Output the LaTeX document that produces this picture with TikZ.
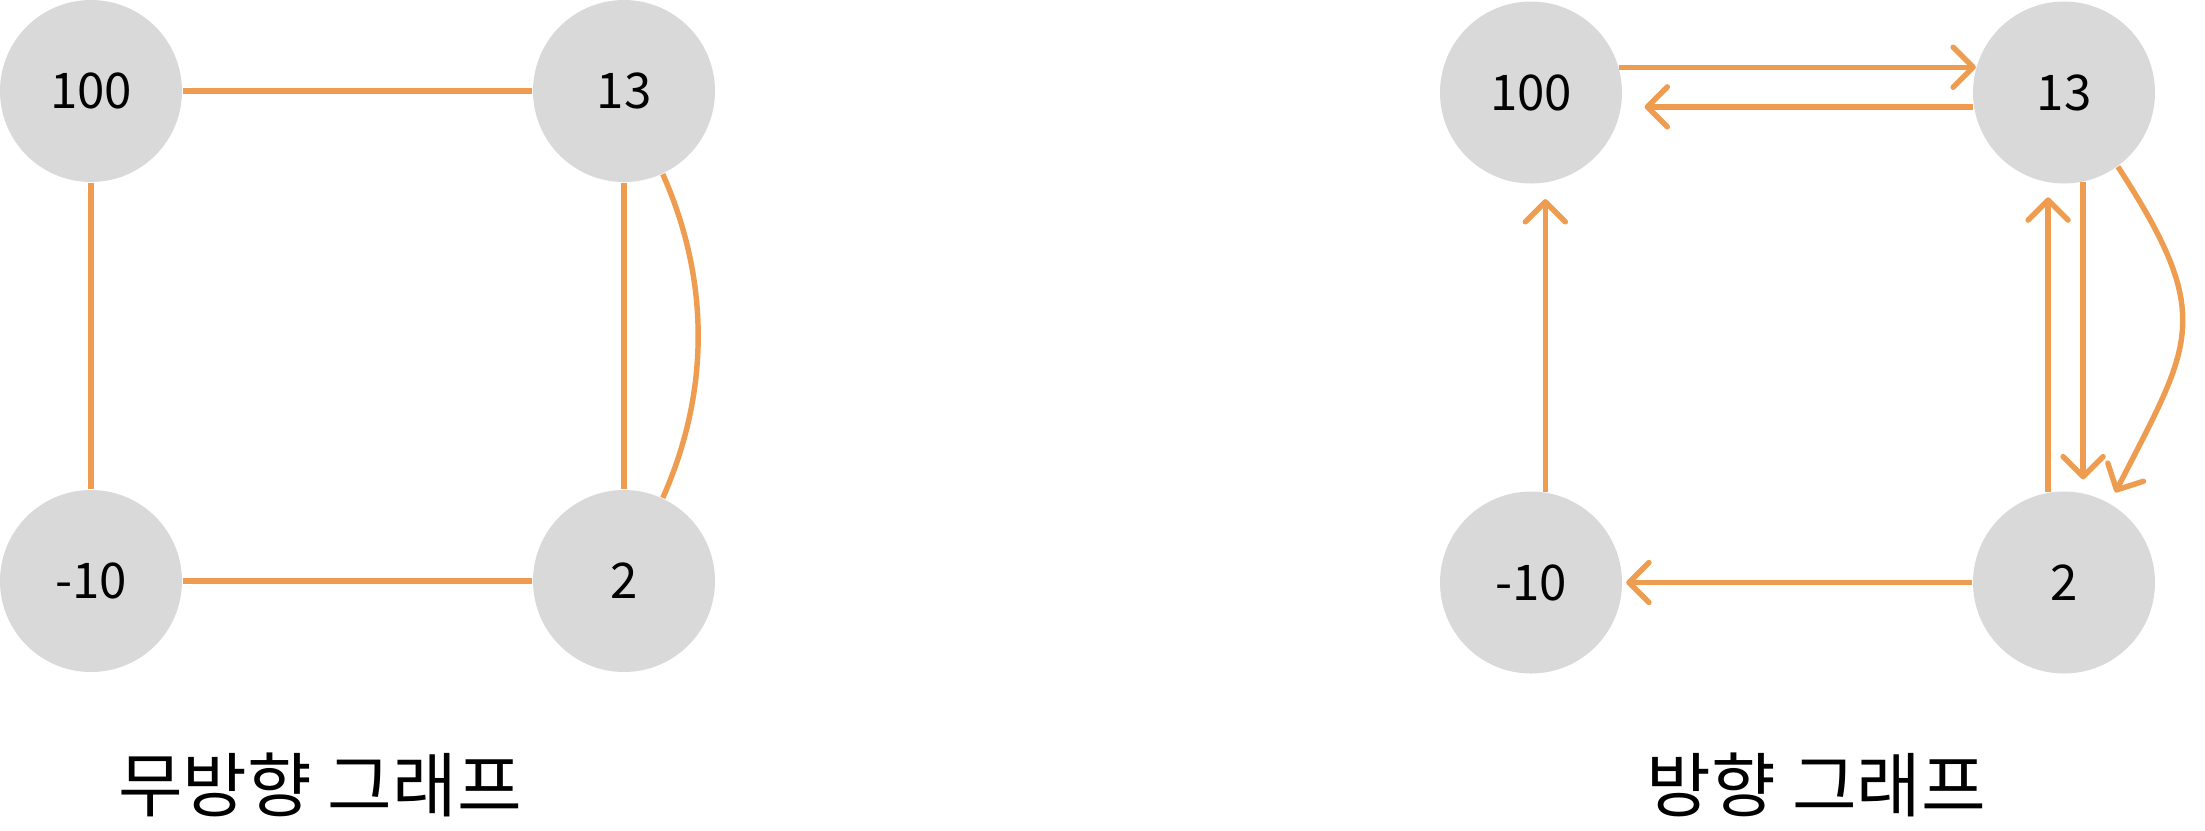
\documentclass[tikz,border=0pt]{standalone}
\usepackage{fontspec}
\setmainfont{Noto Sans CJK KR}
\usetikzlibrary{arrows.meta,positioning}
\definecolor{nodegray}{HTML}{D9D9D9}
\definecolor{edgeorange}{HTML}{EE9D50}

\begin{document}
\begin{tikzpicture}[
  every node/.style={circle,fill=nodegray,minimum size=1.82cm,inner sep=0pt,
    font=\fontsize{14}{16}\selectfont},
  edge/.style={draw=edgeorange,line width=1.55pt},
  title/.style={rectangle,fill=none,minimum size=0pt,font=\fontsize{20}{24}\selectfont},
  >={Straight Barb[length=2mm,width=4mm,round]}]
  \useasboundingbox (0,0) rectangle (22.05,-8.3);

  % undirected graph
  \node (u100) at (0.91,-0.91) {100};
  \node (u13) at (6.24,-0.91) {13};
  \node (um10) at (0.91,-5.81) {-10};
  \node (u2) at (6.24,-5.81) {2};

  \draw[edge] (u100) -- (u13);
  \draw[edge] (u100) -- (um10);
  \draw[edge] (u13) -- (u2);
  \draw[edge] (um10) -- (u2);
  \draw[edge] (u13.-65) to[out=-66,in=66,looseness=0.92] (u2.65);

  % directed graph
  \node (d100) at (15.31,-0.925) {100};
  \node (d13) at (20.64,-0.925) {13};
  \node (dm10) at (15.31,-5.825) {-10};
  \node (d2) at (20.64,-5.825) {2};

  \draw[edge,->] (d100.16) -- (d13.164);
  \draw[edge,->,shorten >=2.3mm] (d13.189) -- (d100.-9);
  \draw[edge,->,shorten >=1.6mm] (dm10.81) -- (d100.-81);
  \draw[edge,->,shorten >=1.45mm] (d2.100) -- (d13.-100);
  \draw[edge,->,shorten >=1.35mm] (d13.-78) -- (d2.78);
  \draw[edge,->,shorten >=0.35mm] (d2) -- (dm10);
  \draw[edge,->,shorten >=1.2mm] (d13.-54) to[out=-57,in=63,looseness=1.37] (d2.60);

  % captions
  \node[title] (utitle) at (3.20,-7.85) {무방향 그래프};
  \node[title] (dtitle) at (18.165,-7.85) {방향 그래프};
\end{tikzpicture}
\end{document}
